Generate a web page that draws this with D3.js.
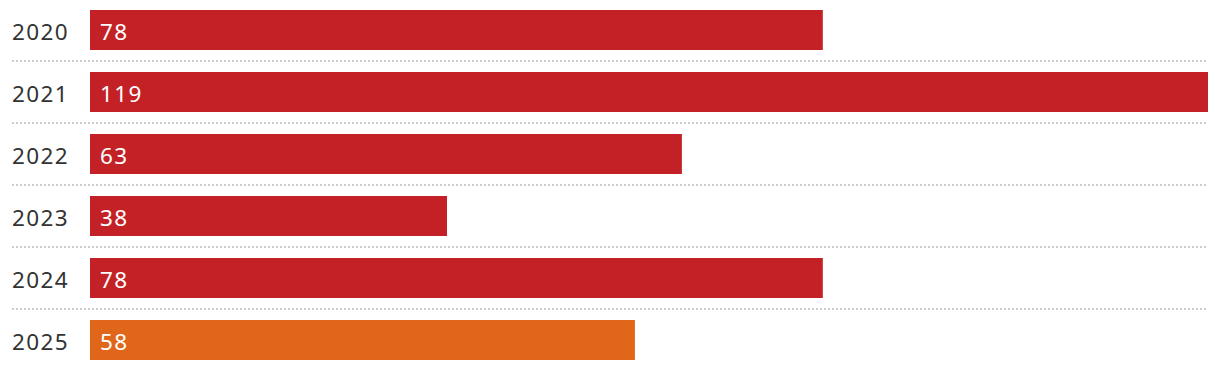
<!DOCTYPE html>
<html>
<head>
<meta charset="utf-8">
<script src="https://cdn.jsdelivr.net/npm/d3@7"></script>
<style>
html,body{margin:0;padding:0;background:#fff;}
svg{display:block;}
text{font-family:"Noto Sans",Lato,sans-serif;}
</style>
</head>
<body>
<svg id="chart" width="1220" height="370"></svg>
<script>
const years = ["2020","2021","2022","2023","2024","2025"];
const values = [78,119,63,38,78,58];
const colors = ["#c42127","#c42127","#c42127","#c42127","#c42127","#e0661a"];

const svg = d3.select("#chart");
const x = d3.scaleLinear().domain([0,119]).range([90,1208]);
const y = d3.scaleBand().domain(years).range([0,372]).paddingInner(0).paddingOuter(0);

const rows = svg.selectAll("g.row").data(years).enter().append("g").attr("class","row");

rows.append("rect")
  .attr("x", x(0))
  .attr("y", d => y(d) + 10)
  .attr("width", (d,i) => x(values[i]) - x(0))
  .attr("height", 40)
  .attr("fill", (d,i) => colors[i]);

rows.append("text")
  .attr("x", 12)
  .attr("y", d => y(d) + 40)
  .attr("font-size", 22.5)
  .attr("letter-spacing", "1.4px")
  .attr("fill", "#333")
  .text(d => d);

rows.append("text")
  .attr("x", 100)
  .attr("y", d => y(d) + 40)
  .attr("font-size", 22.5)
  .attr("letter-spacing", "1.4px")
  .attr("fill", "#fff")
  .text((d,i) => values[i]);

rows.filter((d,i) => i < years.length - 1).append("line")
  .attr("x1", 12).attr("x2", 1208)
  .attr("y1", d => y(d) + 61).attr("y2", d => y(d) + 61)
  .attr("stroke", "#ccc")
  .attr("stroke-width", 2)
  .attr("stroke-dasharray", "2,2");
</script>
</body>
</html>
